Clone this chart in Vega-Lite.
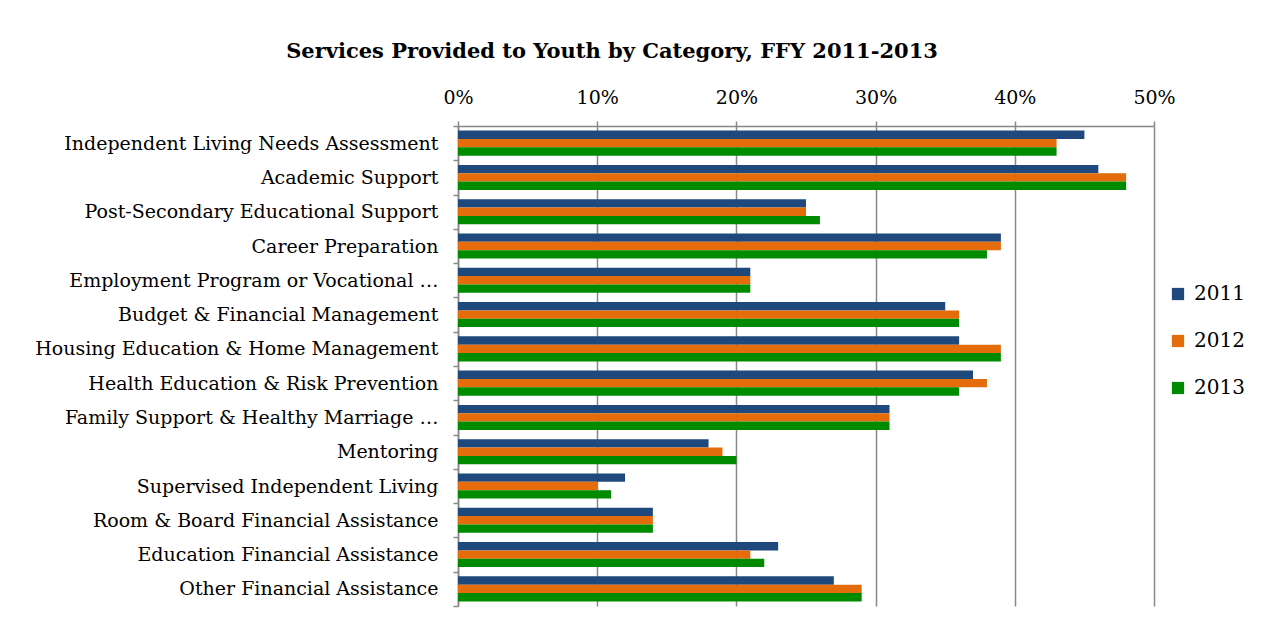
{
  "$schema": "https://vega.github.io/schema/vega-lite/v6.json",
  "autosize": {"type": "none"},
  "width": 696,
  "height": 480,
  "padding": {"left": 458, "top": 126, "right": 113, "bottom": 18},
  "background": "white",
  "title": {
    "text": "Services Provided to Youth by Category, FFY 2011-2013",
    "font": "DejaVu Serif",
    "fontSize": 21,
    "fontWeight": "bold",
    "color": "black",
    "anchor": "middle",
    "dx": -194,
    "offset": 26
  },
  "data": {
    "values": [
      {"category": "Independent Living Needs Assessment", "year": "2011", "value": 0.45},
      {"category": "Independent Living Needs Assessment", "year": "2012", "value": 0.43},
      {"category": "Independent Living Needs Assessment", "year": "2013", "value": 0.43},
      {"category": "Academic Support", "year": "2011", "value": 0.46},
      {"category": "Academic Support", "year": "2012", "value": 0.48},
      {"category": "Academic Support", "year": "2013", "value": 0.48},
      {"category": "Post-Secondary Educational Support", "year": "2011", "value": 0.25},
      {"category": "Post-Secondary Educational Support", "year": "2012", "value": 0.25},
      {"category": "Post-Secondary Educational Support", "year": "2013", "value": 0.26},
      {"category": "Career Preparation", "year": "2011", "value": 0.39},
      {"category": "Career Preparation", "year": "2012", "value": 0.39},
      {"category": "Career Preparation", "year": "2013", "value": 0.38},
      {"category": "Employment Program or Vocational …", "year": "2011", "value": 0.21},
      {"category": "Employment Program or Vocational …", "year": "2012", "value": 0.21},
      {"category": "Employment Program or Vocational …", "year": "2013", "value": 0.21},
      {"category": "Budget & Financial Management", "year": "2011", "value": 0.35},
      {"category": "Budget & Financial Management", "year": "2012", "value": 0.36},
      {"category": "Budget & Financial Management", "year": "2013", "value": 0.36},
      {"category": "Housing Education & Home Management", "year": "2011", "value": 0.36},
      {"category": "Housing Education & Home Management", "year": "2012", "value": 0.39},
      {"category": "Housing Education & Home Management", "year": "2013", "value": 0.39},
      {"category": "Health Education & Risk Prevention", "year": "2011", "value": 0.37},
      {"category": "Health Education & Risk Prevention", "year": "2012", "value": 0.38},
      {"category": "Health Education & Risk Prevention", "year": "2013", "value": 0.36},
      {"category": "Family Support & Healthy Marriage …", "year": "2011", "value": 0.31},
      {"category": "Family Support & Healthy Marriage …", "year": "2012", "value": 0.31},
      {"category": "Family Support & Healthy Marriage …", "year": "2013", "value": 0.31},
      {"category": "Mentoring", "year": "2011", "value": 0.18},
      {"category": "Mentoring", "year": "2012", "value": 0.19},
      {"category": "Mentoring", "year": "2013", "value": 0.20},
      {"category": "Supervised Independent Living", "year": "2011", "value": 0.12},
      {"category": "Supervised Independent Living", "year": "2012", "value": 0.10},
      {"category": "Supervised Independent Living", "year": "2013", "value": 0.11},
      {"category": "Room & Board Financial Assistance", "year": "2011", "value": 0.14},
      {"category": "Room & Board Financial Assistance", "year": "2012", "value": 0.14},
      {"category": "Room & Board Financial Assistance", "year": "2013", "value": 0.14},
      {"category": "Education Financial Assistance", "year": "2011", "value": 0.23},
      {"category": "Education Financial Assistance", "year": "2012", "value": 0.21},
      {"category": "Education Financial Assistance", "year": "2013", "value": 0.22},
      {"category": "Other Financial Assistance", "year": "2011", "value": 0.27},
      {"category": "Other Financial Assistance", "year": "2012", "value": 0.29},
      {"category": "Other Financial Assistance", "year": "2013", "value": 0.29}
    ]
  },
  "mark": {"type": "bar"},
  "encoding": {
    "y": {
      "field": "category",
      "type": "nominal",
      "sort": null,
      "scale": {"paddingInner": 0, "paddingOuter": 0},
      "axis": {
        "title": null,
        "tickBand": "extent",
        "ticks": true,
        "tickSize": 5,
        "tickColor": "#888888",
        "tickWidth": 1.5,
        "domainColor": "#888888",
        "domainWidth": 1.5,
        "labelFont": "DejaVu Serif",
        "labelFontSize": 19,
        "labelColor": "black",
        "labelPadding": 15,
        "labelLimit": 500,
        "grid": false
      }
    },
    "yOffset": {
      "field": "year",
      "type": "nominal",
      "scale": {"paddingInner": 0, "paddingOuter": 0.55}
    },
    "x": {
      "field": "value",
      "type": "quantitative",
      "scale": {"domain": [0, 0.5], "nice": false},
      "axis": {
        "orient": "top",
        "title": null,
        "format": ".0%",
        "values": [0, 0.1, 0.2, 0.3, 0.4, 0.5],
        "labelFlush": false,
        "grid": true,
        "gridColor": "#888888",
        "gridWidth": 1.5,
        "gridOpacity": 1,
        "tickColor": "#888888",
        "tickWidth": 1.5,
        "tickSize": 5,
        "domainColor": "#888888",
        "domainWidth": 1.5,
        "labelFont": "DejaVu Serif",
        "labelFontSize": 19,
        "labelColor": "black",
        "labelPadding": 14
      }
    },
    "color": {
      "field": "year",
      "type": "nominal",
      "scale": {"domain": ["2011", "2012", "2013"], "range": ["#1F497D", "#E46C0A", "#008A00"]},
      "legend": {
        "title": null,
        "orient": "none",
        "legendX": 710,
        "legendY": 158,
        "symbolType": "square",
        "symbolSize": 150,
        "symbolStrokeWidth": 0,
        "labelFont": "DejaVu Serif",
        "labelFontSize": 20,
        "labelColor": "black",
        "rowPadding": 27,
        "labelOffset": 6
      }
    }
  },
  "config": {
    "view": {"stroke": null}
  }
}
